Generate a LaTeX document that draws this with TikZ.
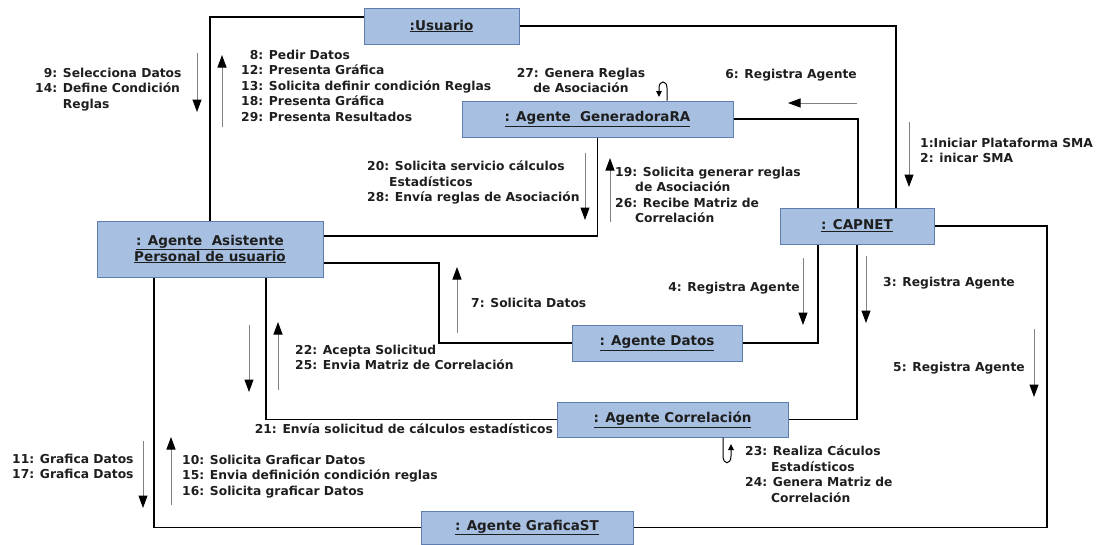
\documentclass[tikz,border=0pt]{standalone}
\usepackage{fontspec}
\setmainfont{DejaVu Sans}
\usetikzlibrary{arrows.meta}
\definecolor{boxfill}{RGB}{167,192,226}
\definecolor{boxline}{RGB}{95,125,175}
\definecolor{ink}{RGB}{30,30,30}

\begin{document}
\begin{tikzpicture}[x=1pt,y=-1pt,
  agent/.style={draw=boxline, fill=boxfill, line width=1pt, minimum height=36pt,
    inner sep=0pt, font=\fontsize{13.5}{16}\selectfont\bfseries, text=ink, align=center},
  link/.style={draw=black, line width=1.3pt},
  selfloop/.style={draw=black, line width=1pt, -{Triangle[length=6pt,width=5.5pt]}},
  msg/.style={draw=black!50, line width=1pt, -{Triangle[color=black,length=12.5pt,width=9pt]}},
  lbl/.style={font=\fontsize{12.3}{15.5}\selectfont\bfseries, text=ink, inner sep=0pt,
    align=left, anchor=north west, execute at begin node=\strut},
]
\useasboundingbox (0,0) rectangle (1103,544);

% agents
\node[agent, minimum width=155pt] (usuario) at (441.5,26) {\underline{:Usuario}};
\node[agent, minimum width=271pt] (gen) at (597.5,119) {\underline{: Agente\ \ GeneradoraRA}};
\node[agent, minimum width=154pt] (capnet) at (857,226) {\underline{: CAPNET}};
\node[agent, minimum width=226pt, minimum height=56pt] (asist) at (210,249)
  {\underline{: Agente\ \ Asistente}\\\underline{Personal de usuario}};
\node[agent, minimum width=170pt] (datos) at (657,343) {\underline{: Agente Datos}};
\node[agent, minimum width=231pt, minimum height=35pt] (corr) at (672.5,419.5) {\underline{: Agente Correlación}};
\node[agent, minimum width=212pt, minimum height=33pt] (graf) at (527,527.5) {\underline{: Agente GraficaST}};

% links between agents
\draw[link] (usuario.west |- 0,17) -| (asist.north);
\draw[link] (usuario.east) -| (capnet.north -| 896,0);
\draw[link] (gen.east) -| (capnet.north -| 858,0);
\draw[link] (gen.south) |- (asist.east |- 0,236);
\draw[link] (asist.east |- 0,263) -| (datos.west -| 439,0) -- (datos.west);
\draw[link] (datos.east) -| (capnet.south -| 818,0);
\draw[link] (asist.south -| 266,0) |- (corr.west);
\draw[link] (corr.east) -| (capnet.south);
\draw[link] (asist.south -| 154,0) |- (graf.west);
\draw[link] (graf.east) -| (capnet.east -| 1047,0) -- (capnet.east);

% self messages
\draw[selfloop] (gen.north -| 667,0) -- (667,88) .. controls (667,80) and (659,80) .. (659,88) -- (659,97);
\draw[selfloop] (corr.south -| 723,0) -- (723,456) .. controls (723,465) and (731,465) .. (731,456) -- (731,444);

% message arrows
\coordinate (m9s) at (197,53);   \coordinate (m9e) at (197,112);
\coordinate (m8s) at (222,127);  \coordinate (m8e) at (222,55);
\coordinate (m6s) at (857,103);  \coordinate (m6e) at (788,103);
\coordinate (m1s) at (909,122);  \coordinate (m1e) at (909,187);
\coordinate (m20s) at (585,153); \coordinate (m20e) at (585,220);
\coordinate (m19s) at (610,222); \coordinate (m19e) at (610,158);
\coordinate (m7s) at (457,333);  \coordinate (m7e) at (457,267);
\coordinate (m4s) at (803,258);  \coordinate (m4e) at (803,325);
\coordinate (m3s) at (866,256);  \coordinate (m3e) at (866,323);
\coordinate (m5s) at (1034,329); \coordinate (m5e) at (1034,397);
\coordinate (m21s) at (249,325); \coordinate (m21e) at (249,392);
\coordinate (m22s) at (278,390); \coordinate (m22e) at (278,322);
\coordinate (m11s) at (143,441); \coordinate (m11e) at (143,508);
\coordinate (m10s) at (171,505); \coordinate (m10e) at (171,437);
\foreach \m in {9,8,6,1,20,19,7,4,3,5,21,22,11,10}
  \draw[msg] (m\m s) -- (m\m e);

% message labels
\node[lbl] (t8) at (241,49.5) {\phantom{1}8: Pedir Datos\\12: Presenta Gráfica\\13: Solicita definir condición Reglas\\18: Presenta Gráfica\\29: Presenta Resultados};
\node[lbl] (t9) at (35,67.5) {\phantom{1}9: Selecciona Datos\\14: Define Condición\\\phantom{14: }Reglas};
\node[lbl, align=center, anchor=north] (t27) at (581,67.5) {27: Genera Reglas\\de Asociación};
\node[lbl, anchor=north east] (t6) at (857,67.5) {6: Registra Agente};
\node[lbl] (t1) at (920,137.5) {1:Iniciar Plataforma SMA\\2: inicar SMA};
\node[lbl] (t20) at (367,160.5) {20: Solicita servicio cálculos\\\hspace*{22pt}Estadísticos\\28: Envía reglas de Asociación};
\node[lbl] (t19) at (615,166.5) {19: Solicita generar reglas\\\hspace*{20pt}de Asociación\\26: Recibe Matriz de\\\hspace*{20pt}Correlación};
\node[lbl] (t7) at (471,296.5) {7: Solicita Datos};
\node[lbl, anchor=north east] (t4) at (800,280.5) {4: Registra Agente};
\node[lbl] (t3) at (883,275.5) {3: Registra Agente};
\node[lbl] (t5) at (893,360.5) {5: Registra Agente};
\node[lbl] (t22) at (295,344.5) {22: Acepta Solicitud\\25: Envia Matriz de Correlación};
\node[lbl, anchor=north east] (t21) at (553,422.5) {21: Envía solicitud de cálculos estadísticos};
\node[lbl] (t11) at (12,453.5) {11: Grafica Datos\\17: Grafica Datos};
\node[lbl] (t10) at (182,454.5) {10: Solicita Graficar Datos\\15: Envia definición condición reglas\\16: Solicita graficar Datos};
\node[lbl] (t23) at (745,445.5) {23: Realiza Cáculos\\\hspace*{26pt}Estadísticos\\24: Genera Matriz de\\\hspace*{26pt}Correlación};
\end{tikzpicture}
\end{document}
